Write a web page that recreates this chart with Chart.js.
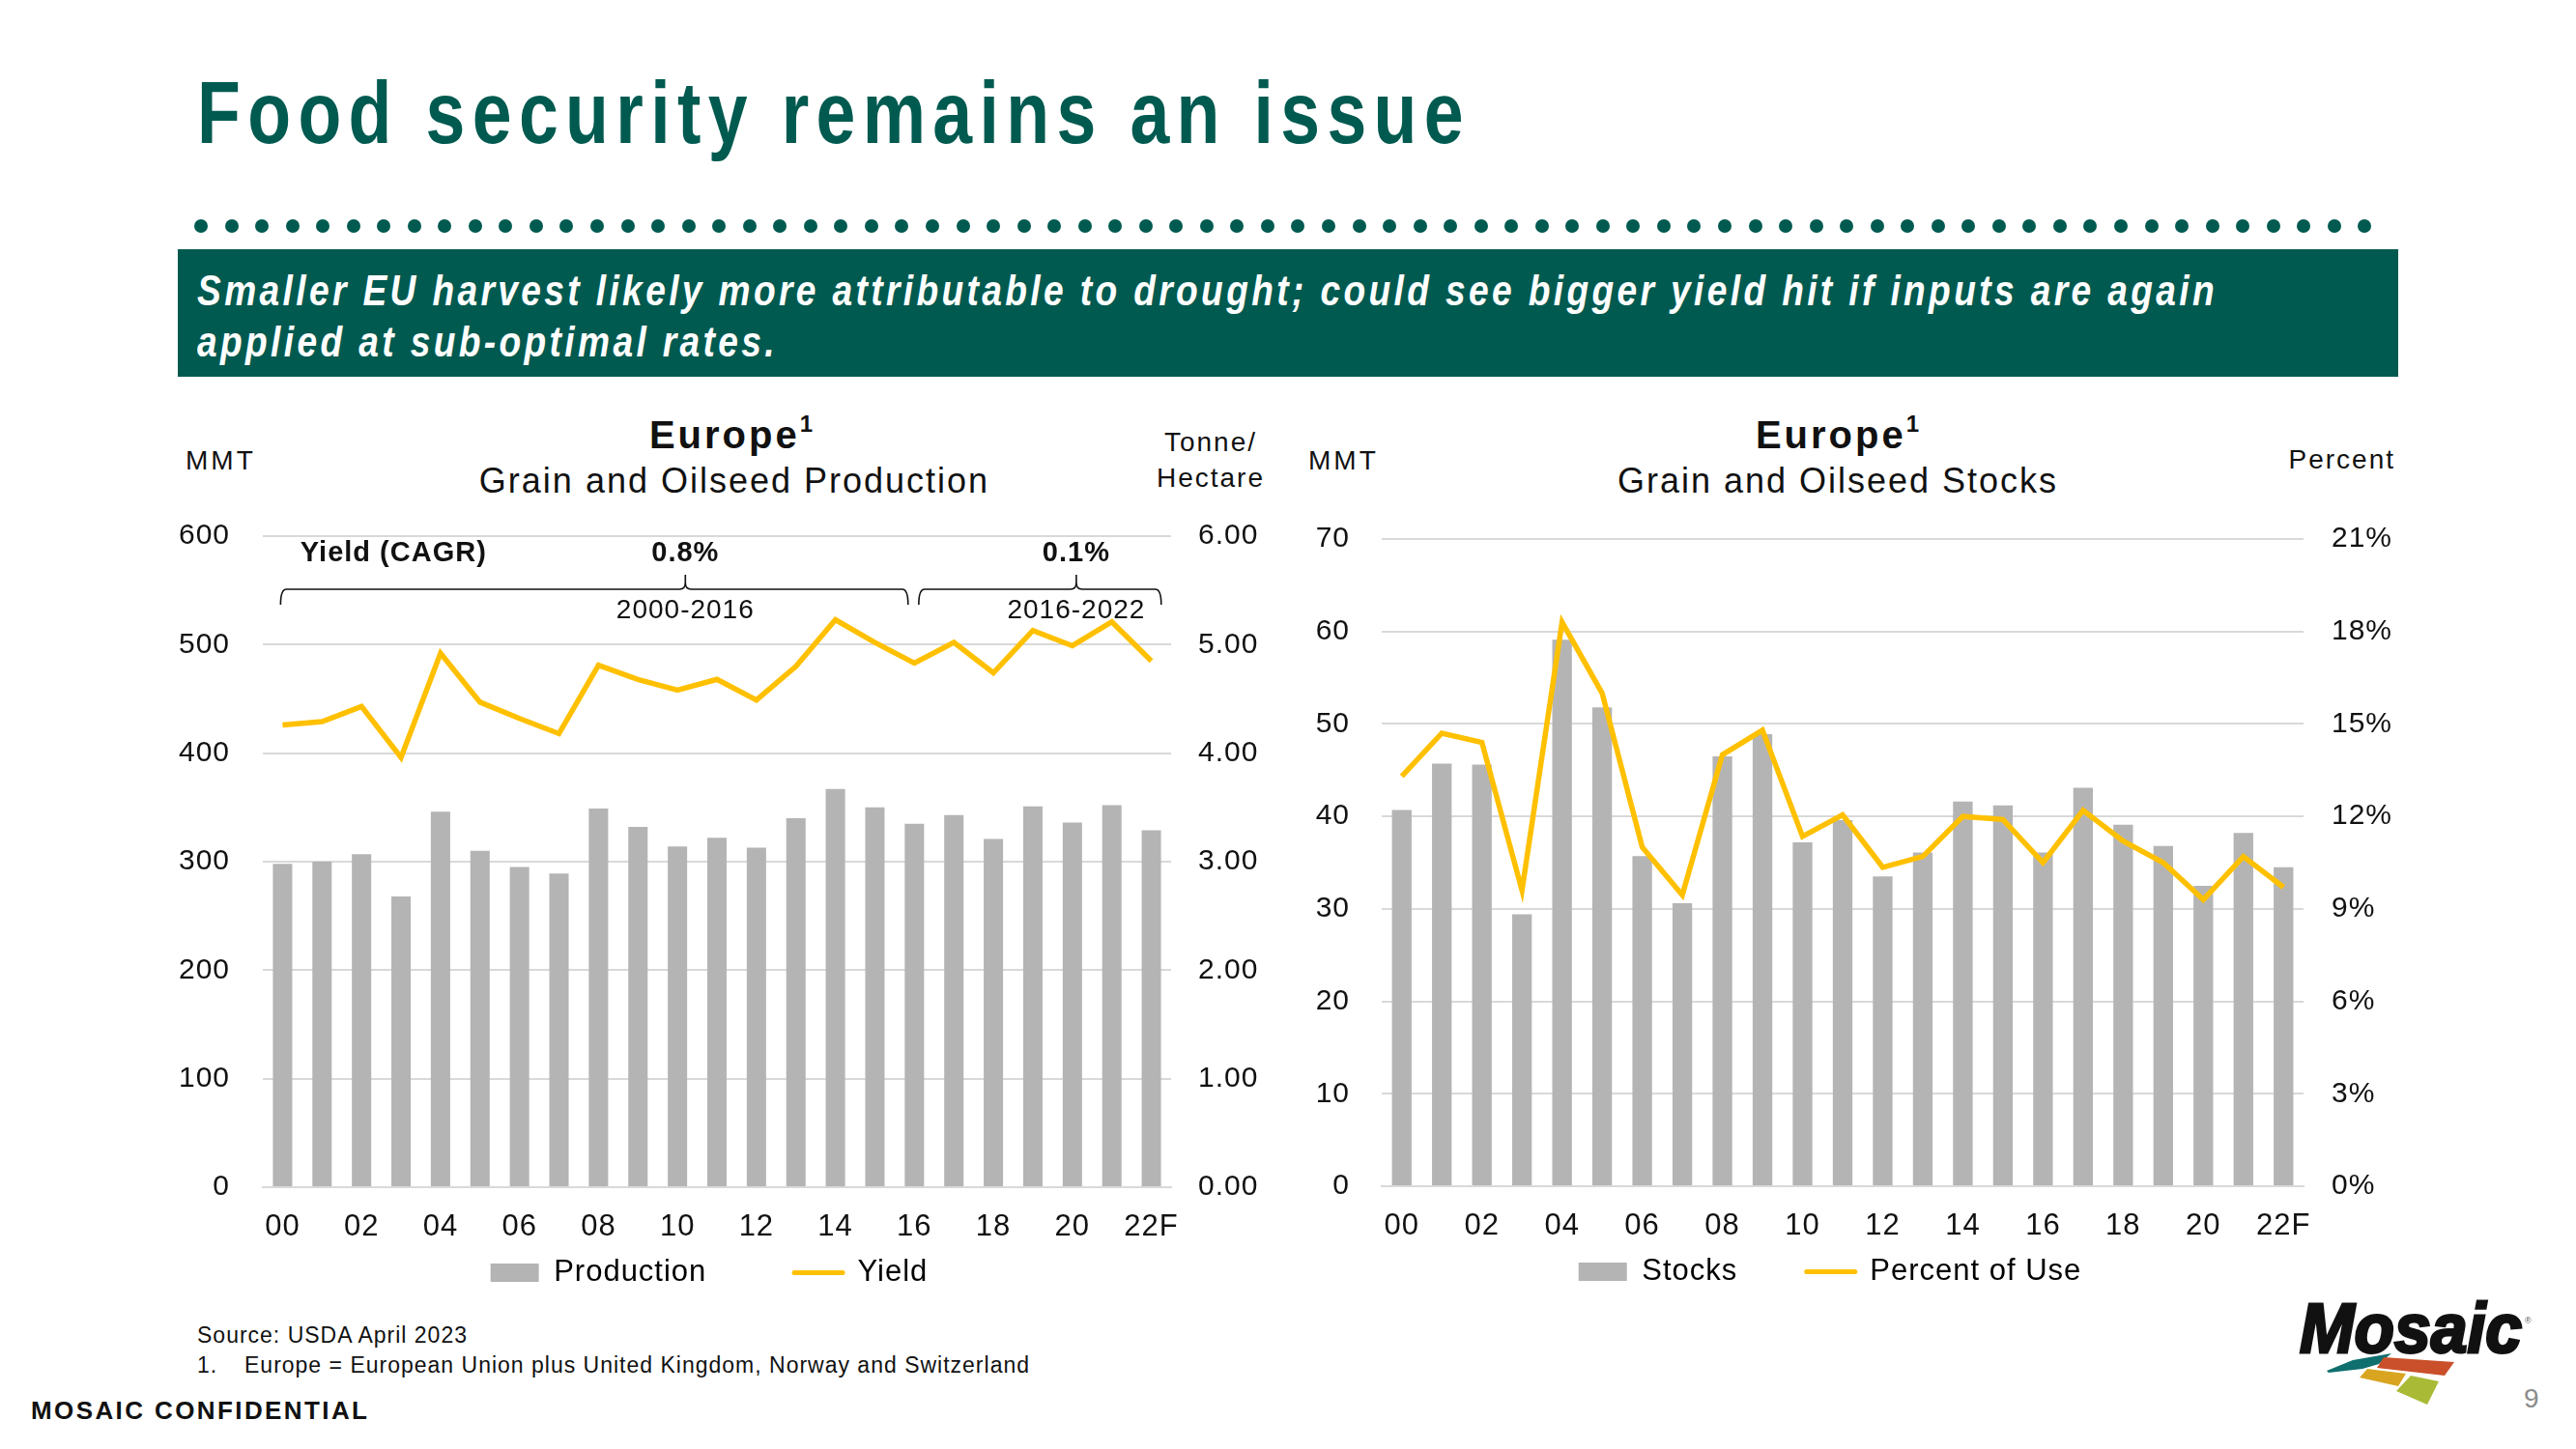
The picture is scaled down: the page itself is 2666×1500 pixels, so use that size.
<!DOCTYPE html>
<html>
<head>
<meta charset="utf-8">
<script src="https://cdn.jsdelivr.net/npm/chart.js@4.4.0/dist/chart.umd.min.js"></script>
<style>
html, body { margin: 0; padding: 0; background: #fff; }
body { width: 2666px; height: 1500px; position: relative; overflow: hidden; font-family: "Liberation Sans", Arial, sans-serif; color: #111; }
.t { position: absolute; white-space: nowrap; line-height: 1; }
.c { transform: translateX(-50%); }
canvas { position: absolute; }
</style>
</head>
<body>

<div class="t" id="title" style="left:204px;top:72px;font-size:90px;font-weight:bold;color:#005A50;letter-spacing:9px;transform-origin:0 0">Food security remains an issue</div>
<div id="dots"></div>
<div style="position:absolute;left:184px;top:258px;width:2298px;height:132px;background:#005A50"></div>
<div class="t" id="b1" style="left:204px;top:279px;font-size:44px;font-weight:bold;font-style:italic;color:#fff;letter-spacing:4px;transform-origin:0 0">Smaller EU harvest likely more attributable to drought; could see bigger yield hit if inputs are again</div>
<div class="t" id="b2" style="left:204px;top:332px;font-size:44px;font-weight:bold;font-style:italic;color:#fff;letter-spacing:4px;transform-origin:0 0">applied at sub-optimal rates.</div>

<!-- left chart headings -->
<div class="t c" style="left:758px;top:430px;font-size:40px;font-weight:bold;letter-spacing:3px">Europe<span style="font-size:24px;position:relative;top:-17px">1</span></div>
<div class="t c" style="left:760px;top:480px;font-size:36px;letter-spacing:2px">Grain and Oilseed Production</div>
<div class="t" style="left:192px;top:463px;font-size:28px;letter-spacing:3px">MMT</div>
<div class="t c" style="left:1253px;top:444px;font-size:28px;letter-spacing:2px">Tonne/</div>
<div class="t c" style="left:1253px;top:481px;font-size:28px;letter-spacing:2px">Hectare</div>

<!-- right chart headings -->
<div class="t c" style="left:1903px;top:430px;font-size:40px;font-weight:bold;letter-spacing:3px">Europe<span style="font-size:24px;position:relative;top:-17px">1</span></div>
<div class="t c" style="left:1902px;top:480px;font-size:36px;letter-spacing:2px">Grain and Oilseed Stocks</div>
<div class="t" style="left:1354px;top:463px;font-size:28px;letter-spacing:3px">MMT</div>
<div class="t" style="right:187px;top:462px;font-size:28px;letter-spacing:2px">Percent</div>

<canvas id="prodChart" width="1168" height="840" style="left:150px;top:503px"></canvas>
<canvas id="stockChart" width="1164" height="835" style="left:1312px;top:507px"></canvas>

<div class="t" style="left:204px;top:1371px;font-size:23px;letter-spacing:1px">Source: USDA April 2023</div>
<div class="t" style="left:204px;top:1402px;font-size:23px;letter-spacing:1px">1.</div>
<div class="t" style="left:253px;top:1402px;font-size:23px;letter-spacing:1px">Europe = European Union plus United Kingdom, Norway and Switzerland</div>
<div class="t" style="left:32px;top:1447px;font-size:26px;font-weight:bold;letter-spacing:2.4px">MOSAIC CONFIDENTIAL</div>
<div class="t" style="left:2612px;top:1434px;font-size:28px;color:#8c8c8c">9</div>

<svg style="position:absolute;left:2300px;top:1300px" width="366" height="200" viewBox="0 0 366 200">
  <text x="80" y="100" font-family="Liberation Sans, Arial" font-weight="bold" font-style="italic" font-size="72" textLength="230" lengthAdjust="spacingAndGlyphs" fill="#111" stroke="#111" stroke-width="3">Mosaic</text>
  <text x="313" y="70" font-family="Liberation Sans, Arial" font-size="9" fill="#555">®</text>
  <polygon points="108,119 135,108 175,101 162,112 145,117 110,121" fill="#0E6F6E"/>
  <polygon points="167,105 240,110 230,124 160,116" fill="#C9502A"/>
  <polygon points="150,117 190,122 182,135 142,126" fill="#D9A521"/>
  <polygon points="195,124 224,130 212,154 180,140" fill="#A9BA36"/>
</svg>

<script>
// ---- data ----
const years = ['00','01','02','03','04','05','06','07','08','09','10','11','12','13','14','15','16','17','18','19','20','21','22F'];

// left chart: production (MMT) and yield (tonne/hectare)
const production = [298, 300, 307, 268, 346, 310, 295, 289, 349, 332, 314, 322, 313, 340, 367, 350, 335, 343, 321, 351, 336, 352, 329];
const yieldTH = [4.26, 4.29, 4.43, 3.96, 4.92, 4.47, 4.32, 4.18, 4.81, 4.68, 4.58, 4.68, 4.49, 4.80, 5.23, 5.02, 4.83, 5.02, 4.74, 5.13, 4.99, 5.21, 4.85];

// right chart: stocks (MMT) and percent of use
const stocks = [40.7, 45.7, 45.6, 29.4, 59.1, 51.8, 35.7, 30.6, 46.5, 48.9, 37.2, 39.6, 33.5, 36.1, 41.6, 41.2, 36.1, 43.1, 39.1, 36.8, 32.5, 38.2, 34.5];
const pctOfUse = [13.3, 14.7, 14.4, 9.6, 18.3, 16.0, 11.0, 9.45, 14.0, 14.8, 11.35, 12.05, 10.35, 10.7, 12.0, 11.9, 10.5, 12.2, 11.2, 10.5, 9.3, 10.7, 9.7];

// yield CAGR brackets (positions in category units)
const cagrPeriods = [
    { range: '2000-2016', rate: '0.8%', from: -0.05, to: 15.84, mid: 10.2 },
    { range: '2016-2022', rate: '0.1%', from: 16.11, to: 22.25, mid: 20.1 },
];

const barColor = '#B4B4B4';
const lineColor = '#FFC000';
const gridColor = '#D9D9D9';

Chart.defaults.font.family = '"Liberation Sans", Arial, sans-serif';
Chart.defaults.color = '#111';

// the slides use slightly tracked text
Chart.register({
    id: 'tracking',
    beforeUpdate(chart) { chart.ctx.letterSpacing = '1px'; },
    beforeDraw(chart) { chart.ctx.letterSpacing = '1px'; },
});

// header text sizing
function fitWidth(el, w) {
    const natural = el.getBoundingClientRect().width;
    const k = w / natural;
    el.style.transform = 'scaleX(' + k + ')';
    return k;
}
fitWidth(document.getElementById('title'), 1318);
const k = fitWidth(document.getElementById('b1'), 2091);
document.getElementById('b2').style.transform = 'scaleX(' + k + ')';

const dots = document.getElementById('dots');
for (let i = 0; i < 72; i++) {
    const d = document.createElement('div');
    d.style.cssText = 'position:absolute;left:' + (208 + i * 31.54 - 7) + 'px;top:227px;width:14px;height:14px;border-radius:50%;background:#005A50';
    dots.appendChild(d);
}

const cagrPlugin = {
    id: 'cagr',
    afterDraw(chart) {
        const { ctx, chartArea, scales } = chart;
        const x = scales.x;
        const top = chartArea.top;
        const by = top + 55;
        ctx.save();
        ctx.letterSpacing = '1px';
        ctx.fillStyle = '#111';
        ctx.strokeStyle = '#111';
        ctx.lineWidth = 1.6;
        ctx.textBaseline = 'alphabetic';

        ctx.font = 'bold 29px "Liberation Sans", Arial';
        ctx.textAlign = 'left';
        ctx.fillText('Yield (CAGR)', x.getPixelForValue(0.45), top + 26);

        cagrPeriods.forEach((p) => {
            const x0 = x.getPixelForValue(p.from);
            const x1 = x.getPixelForValue(p.to);
            const xm = x.getPixelForValue(p.mid);
            ctx.beginPath();
            ctx.moveTo(x0, by + 16);
            ctx.quadraticCurveTo(x0, by, x0 + 6, by);
            ctx.lineTo(xm - 6, by);
            ctx.quadraticCurveTo(xm, by, xm, by - 7);
            ctx.lineTo(xm, by - 15);
            ctx.moveTo(xm, by - 7);
            ctx.quadraticCurveTo(xm, by, xm + 6, by);
            ctx.lineTo(x1 - 6, by);
            ctx.quadraticCurveTo(x1, by, x1, by + 16);
            ctx.stroke();

            ctx.textAlign = 'center';
            ctx.font = 'bold 29px "Liberation Sans", Arial';
            ctx.fillText(p.rate, xm, top + 26);
            ctx.font = '28px "Liberation Sans", Arial';
            ctx.fillText(p.range, xm, top + 85);
        });
        ctx.restore();
    },
};

function makeChart(id, o) {
    const ctx = document.getElementById(id).getContext('2d');
    return new Chart(ctx, {
        data: {
            labels: years,
            datasets: [
                {
                    type: 'bar',
                    label: o.barLabel,
                    data: o.bars,
                    backgroundColor: barColor,
                    barPercentage: 0.49,
                    categoryPercentage: 1,
                    yAxisID: 'y',
                    order: 2,
                },
                {
                    type: 'line',
                    label: o.lineLabel,
                    data: o.line,
                    borderColor: lineColor,
                    backgroundColor: lineColor,
                    borderWidth: 5.5,
                    pointRadius: 0,
                    tension: 0,
                    yAxisID: 'y1',
                    order: 1,
                },
            ],
        },
        options: {
            responsive: false,
            animation: false,
            devicePixelRatio: 1,
            layout: { padding: 0 },
            scales: {
                x: {
                    grid: { display: false },
                    border: { display: true, color: gridColor, width: 2 },
                    ticks: {
                        autoSkip: false,
                        maxRotation: 0,
                        padding: 15,
                        font: { size: 31 },
                        callback: (v, i) => (i % 2 === 0 ? years[i] : ''),
                    },
                    afterFit: (s) => { s.height = o.xH; },
                },
                y: {
                    position: 'left',
                    min: 0, max: o.yMax,
                    grid: { color: gridColor, lineWidth: 2, drawTicks: false },
                    border: { display: false },
                    ticks: { stepSize: o.yStep, padding: o.yPad, font: { size: 30 } },
                    afterFit: (s) => { s.width = o.yW; },
                },
                y1: {
                    position: 'right',
                    min: 0, max: o.y1Max,
                    grid: { display: false, drawTicks: false },
                    border: { display: false },
                    ticks: { stepSize: o.y1Step, padding: o.y1Pad, font: { size: 30 }, callback: o.y1Fmt },
                    afterFit: (s) => { s.width = o.y1W; },
                },
            },
            plugins: {
                tooltip: { enabled: false },
                legend: {
                    position: 'bottom',
                    labels: {
                        usePointStyle: true,
                        pointStyleWidth: 50,
                        boxHeight: 19,
                        padding: 3,
                        font: { size: 31 },
                        color: '#111',
                        generateLabels: (chart) => {
                            const ds = chart.data.datasets;
                            return [
                                { text: ds[0].label, fillStyle: barColor, strokeStyle: barColor, lineWidth: 0, pointStyle: 'rect', datasetIndex: 0, hidden: false },
                                { text: o.gapText, fillStyle: 'rgba(0,0,0,0)', strokeStyle: 'rgba(0,0,0,0)', lineWidth: 0, pointStyle: 'rect', hidden: false },
                                { text: ds[1].label, fillStyle: lineColor, strokeStyle: lineColor, lineWidth: 5, lineCap: 'round', pointStyle: 'line', datasetIndex: 1, hidden: false },
                            ];
                        },
                    },
                },
            },
        },
        plugins: o.plugins || [],
    });
}

makeChart('prodChart', {
    bars: production, barLabel: 'Production',
    line: yieldTH, lineLabel: 'Yield',
    yMax: 600, yStep: 100, yPad: 34, yW: 122,
    y1Max: 6, y1Step: 1, y1Pad: 28, y1W: 106, y1Fmt: (v) => v.toFixed(2),
    xH: 70, gapText: '  ',
    plugins: [cagrPlugin],
});

makeChart('stockChart', {
    bars: stocks, barLabel: 'Stocks',
    line: pctOfUse, lineLabel: 'Percent of Use',
    yMax: 70, yStep: 10, yPad: 33, yW: 118,
    y1Max: 21, y1Step: 3, y1Pad: 29, y1W: 92, y1Fmt: (v) => v + '%',
    xH: 70, gapText: '',
});
</script>
</body>
</html>
